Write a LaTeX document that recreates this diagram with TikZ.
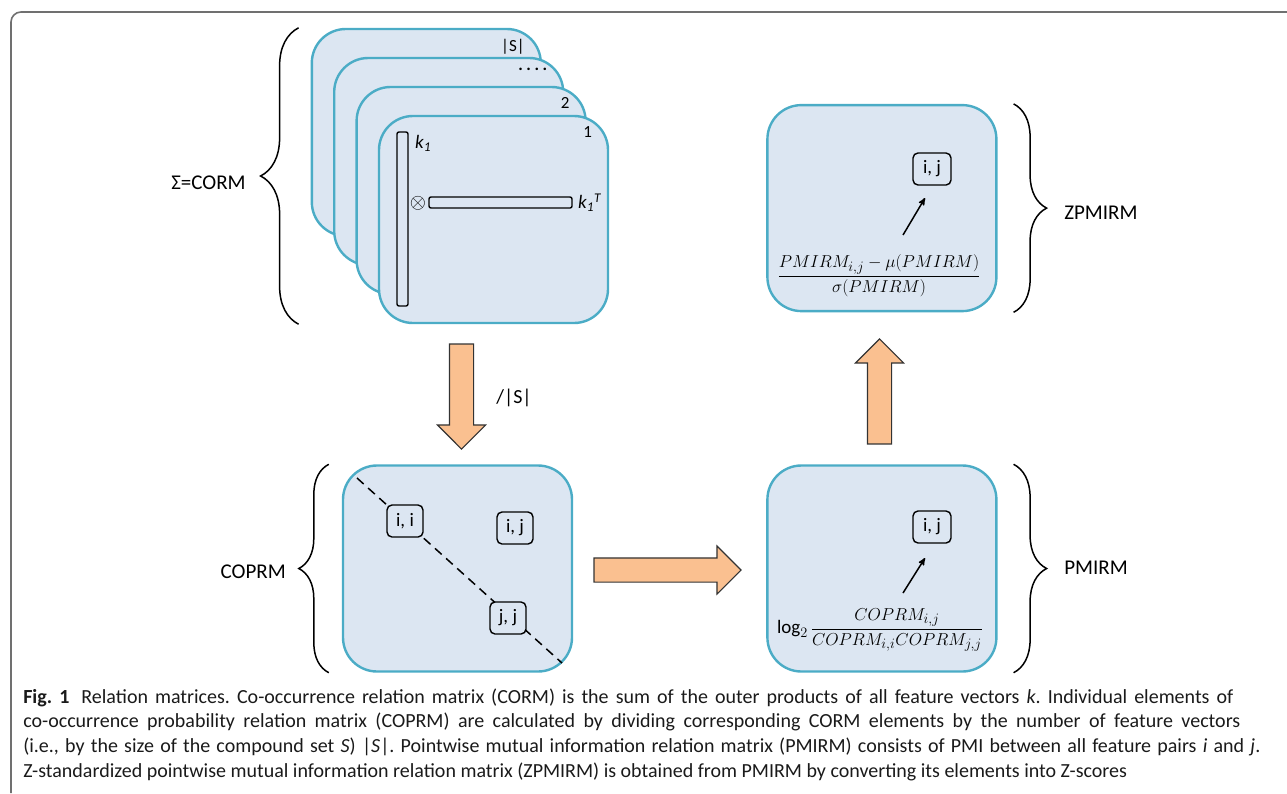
\documentclass[tikz,border=0pt]{standalone}
\usepackage{amsmath}
\usepackage{fontspec}
\setmainfont{Carlito}
\newfontfamily\capfont{Carlito}
\usepackage{tikz}
\usetikzlibrary{positioning}
\usetikzlibrary{arrows}
\usetikzlibrary{shapes.arrows}
\usetikzlibrary{decorations.pathreplacing}
\definecolor{matfill}{HTML}{DCE6F2}
\definecolor{matline}{HTML}{4BACC6}
\definecolor{arrfill}{HTML}{FAC090}
\definecolor{framegray}{HTML}{707070}
\definecolor{captext}{HTML}{1A1A1A}
\frenchspacing
\tikzset{
mat/.style={
  rectangle,
  rounded corners=34pt,
  draw=matline,
  fill=matfill,
  line width=2.4pt,
  minimum width=229pt,
  minimum height=206pt
  },
elem/.style={
  rectangle,
  rounded corners=5pt,
  draw=black,
  fill=matfill,
  line width=1.4pt,
  minimum width=36pt,
  minimum height=32pt,
  inner sep=1pt,
  font=\fontsize{19}{22}\selectfont
  },
vec/.style={
  rectangle,
  rounded corners=2pt,
  draw=black,
  fill=matfill,
  line width=1.4pt,
  inner sep=0pt
  },
bigarr/.style={
  single arrow,
  draw=black!80,
  fill=arrfill,
  line width=1.1pt,
  inner xsep=0pt,
  inner ysep=11.5pt,
  single arrow head extend=12pt,
  single arrow tip angle=90,
  minimum height=105pt
  },
brc/.style={
  decorate,
  line width=1.5pt
  },
side/.style={
  font=\fontsize{21}{24}\selectfont,
  inner sep=0pt
  },
cardnum/.style={
  font=\fontsize{17}{20}\selectfont,
  inner sep=0pt,
  anchor=north east
  },
capline/.style={
  font=\capfont\fontsize{20}{24}\selectfont,
  text=captext,
  inner sep=0pt,
  anchor=base west
  }
}

\begin{document}
\begin{tikzpicture}[x=1pt,y=-1pt,>=stealth',semithick]
\useasboundingbox (0,0) rectangle (1287,793);
% frame
\draw[framegray,line width=1.6pt,rounded corners=10pt] (11,793) -- (11,12) -- (1287,12);

% stack of CORM cards
\foreach \k/\lab in {4/{|S|},3/{\textbf{.\hspace{3.5pt}.\hspace{3.5pt}.\hspace{3.5pt}.}},2/{2},1/{1}} {
  \node[mat,minimum height=207pt] (card\k) at ({493.5-(\k-1)*22.4},{219.5-(\k-1)*29}) {};
  \node[cardnum] at ([xshift=-17pt,yshift=-11pt]card\k.north east) {\lab};
}
\node[vec,minimum width=11pt,minimum height=174pt] (vk) at (402.5,219) {};
\node[vec,minimum width=143pt,minimum height=11pt] (vkt) at (500.5,202.5) {};
\node[inner sep=0pt,font=\fontsize{21}{21}\selectfont] (prod) at (418,203) {$\otimes$};
\node[inner sep=0pt,anchor=north west,font=\fontsize{19}{22}\selectfont] (lk) at ([xshift=6pt,yshift=-4pt]vk.north east) {\textit{k}\textsubscript{\textit{1}}};
\node[inner sep=0pt,anchor=west,font=\fontsize{19}{22}\selectfont] (lkt) [right=5pt of vkt] {\textit{k}\textsubscript{\textit{1}}\textsuperscript{\textit{T}}};

% COPRM
\node[mat] (cop) at (457.5,568.5) {};
\coordinate (d1) at (357,478);
\coordinate (d2) at (562,663);
\draw[line width=1.5pt,dash pattern=on 9pt off 6pt] (d1) -- (d2);
\node[elem] (ii) at (405,521) {i, i};
\node[elem] (ij) at (515,528) {i, j};
\node[elem] (jj) at (508,618) {j, j};

% PMIRM and ZPMIRM
\node[mat] (pmi) [right=193pt of cop] {};
\node[mat] (zpm) [above=152pt of pmi] {};
\node[elem,minimum width=38pt] (pij) at (932,527) {i, j};
\node[elem,minimum width=38pt] (zij) at (932,169) {i, j};
\node[inner sep=0pt,font=\fontsize{19}{22}\selectfont] (pfm) at (880,630)
  {$\displaystyle\log_2\frac{COPRM_{i,j}}{COPRM_{i,i}COPRM_{j,j}}$};
\node[inner sep=0pt,font=\fontsize{19}{22}\selectfont] (zfm) at (879,276)
  {$\displaystyle\frac{PMIRM_{i,j}-\mu(PMIRM)}{\sigma(PMIRM)}$};
\coordinate (pa) at (903,593);
\coordinate (pb) at (925,558);
\coordinate (za) at (903,235);
\coordinate (zb) at (925,198);
\draw[->,line width=1.5pt] (pa) -- (pb);
\draw[->,line width=1.5pt] (za) -- (zb);

% block arrows
\node[bigarr,rotate=-90] (adown) at (461.5,390.5) {};
\node[side,font=\fontsize{20}{24}\selectfont] (ldiv) at (514,398) {/|S|};
\node[bigarr,minimum height=147pt] (aright) at (661.5,570) {};
\node[bigarr,rotate=90] (aup) at (879.5,397.5) {};

% braces
\draw[brc,decoration={brace,amplitude=38pt}] ([xshift=-12pt]card4.north west |- card1.south) -- ([xshift=-12pt]card4.north west);
\draw[brc,decoration={brace,amplitude=30pt}] ([xshift=-13pt]cop.south west) -- ([xshift=-13pt]cop.north west);
\draw[brc,decoration={brace,amplitude=33pt}] ([xshift=16pt]zpm.north east) -- ([xshift=16pt]zpm.south east);
\draw[brc,decoration={brace,amplitude=33pt}] ([xshift=16pt]pmi.north east) -- ([xshift=16pt]pmi.south east);
\node[side,anchor=east] (lcorm) at (246,183) {Σ=CORM};
\node[side,anchor=east] (lcop) at (286,572) {COPRM};
\node[side,anchor=west] (lzpm) at (1064,213) {ZPMIRM};
\node[side,anchor=west] (lpmi) at (1064,568) {PMIRM};

% caption
\node[capline] (c1) at (23,703) {\makebox[1210pt][s]{\textbf{Fig. 1}\hspace{0.6em}Relation matrices. Co-occurrence relation matrix (CORM) is the sum of the outer products of all feature vectors \textit{k}. Individual elements of}};
\node[capline] (c2) at (23,727) {\makebox[1217pt][s]{co-occurrence probability relation matrix (COPRM) are calculated by dividing corresponding CORM elements by the number of feature vectors}};
\node[capline] (c3) at (23,752) {\makebox[1237pt][s]{(i.e., by the size of the compound set \textit{S}) |\textit{S}|. Pointwise mutual information relation matrix (PMIRM) consists of PMI between all feature pairs \textit{i} and \textit{j}.}};
\node[capline] (c4) at (23,777) {Z-standardized pointwise mutual information relation matrix (ZPMIRM) is obtained from PMIRM by converting its elements into Z-scores};
\end{tikzpicture}
\end{document}
